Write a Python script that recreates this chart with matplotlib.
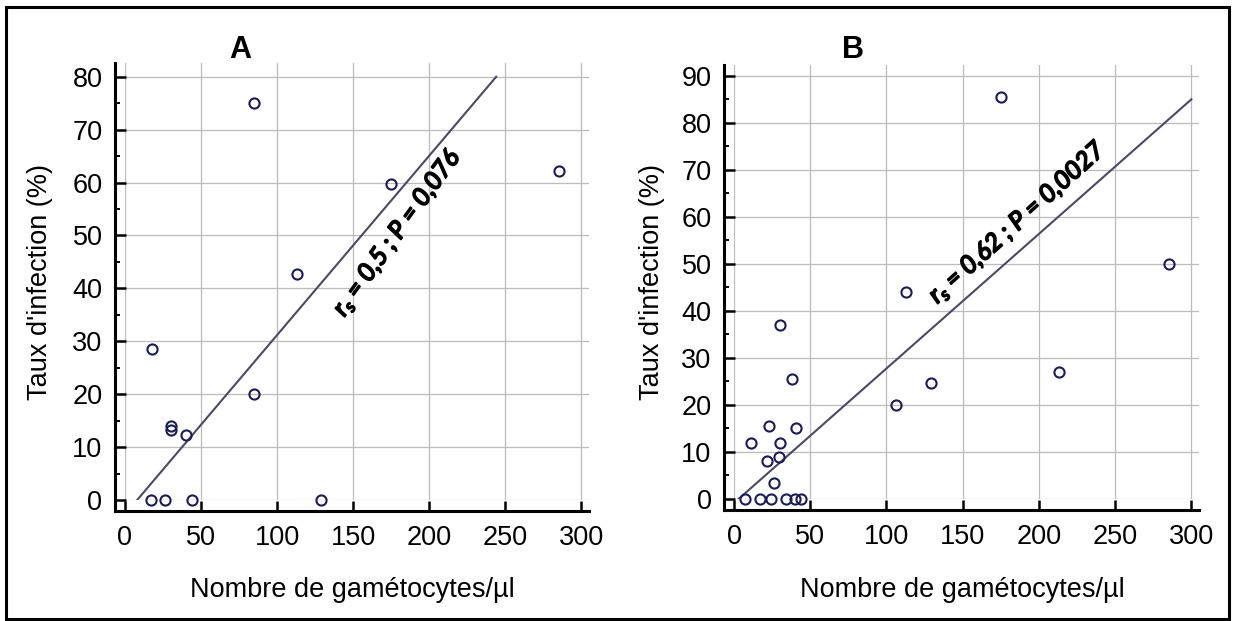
import numpy as np
import matplotlib
matplotlib.use("Agg")
import matplotlib.pyplot as plt
import matplotlib.patheffects as pe
from matplotlib.patches import Rectangle
from matplotlib.ticker import MultipleLocator

# panel A : gametocytes/ul vs infection rate (%)
gam_a = [17, 26, 44, 129, 18, 30, 30, 40, 85, 113, 85, 175, 285]
inf_a = [0, 0, 0, 0, 28.5, 14, 13.3, 12.3, 20, 42.8, 75, 59.8, 62.1]
fit_a_x = [8, 244]
fit_a_y = [0, 80]
label_a = "$r_s$ = 0,5 ; P = 0,076"

# panel B
gam_b = [7, 17, 24.5, 34, 40, 44, 38, 23, 40.5, 11, 30, 29.5, 21.5, 26,
         30, 106, 113, 129, 175, 213, 285]
inf_b = [0, 0, 0, 0, 0, 0, 25.5, 15.5, 15, 12, 12, 9, 8, 3.3,
         37, 20, 44, 24.7, 85.5, 27, 50]
fit_b_x = [3, 300]
fit_b_y = [0, 85]
label_b = "$r_s$ = 0,62 ; P = 0,0027"

xlabel = "Nombre de gamétocytes/µl"
ylabel = "Taux d'infection (%)"

W, H = 1234, 621
PT = 72 / 100  # points per pixel

plt.rcParams["font.family"] = ["Liberation Sans", "DejaVu Sans"]
plt.rcParams["mathtext.fontset"] = "custom"
plt.rcParams["mathtext.it"] = "Lato:italic"
plt.rcParams["mathtext.rm"] = "Lato"

fig = plt.figure(figsize=(W / 100, H / 100), dpi=100)
ax_a = fig.add_axes([125 / W, 1 - 500 / H, (589 - 125) / W, (500 - 63) / H])
ax_b = fig.add_axes([734 / W, 1 - 499 / H, (1199 - 734) / W, (499 - 65) / H])


def style(ax, ytop):
    ax.set_xlim(0, 305)
    ax.set_ylim(0, ytop)
    ax.xaxis.set_major_locator(MultipleLocator(50))
    ax.yaxis.set_major_locator(MultipleLocator(10))
    ax.yaxis.set_minor_locator(MultipleLocator(5))
    ax.grid(True, which="major", color="#bcbcbc", lw=0.9)
    ax.set_axisbelow(True)
    ax.spines["top"].set_visible(False)
    ax.spines["right"].set_visible(False)
    ax.spines["left"].set_position(("outward", 10 * PT))
    ax.spines["bottom"].set_position(("outward", 11 * PT))
    for s in ("left", "bottom"):
        ax.spines[s].set_linewidth(2.2)
    # extend the spines so they meet at the corner
    bb = ax.get_position()
    xpp = 305 / (bb.width * W)
    ypp = ytop / (bb.height * H)
    ax.spines["bottom"].set_bounds(-10 * xpp, 305)
    ax.spines["left"].set_bounds(-11 * ypp, ytop)
    ax.tick_params(which="major", direction="in", length=10.5 * PT, width=1.8,
                   labelsize=19.5, pad=9)
    ax.tick_params(axis="y", which="minor", direction="in", length=5 * PT, width=1.4)
    ax.tick_params(axis="x", pad=10)


style(ax_a, 82.6)
style(ax_b, 92.3)

mk = dict(marker="o", ls="none", ms=7.3, mfc="none", mec="#1c1c55", mew=1.5,
          clip_on=False, zorder=3)
ax_a.plot(gam_a, inf_a, **mk)
ax_b.plot(gam_b, inf_b, **mk)
ax_a.plot(fit_a_x, fit_a_y, color="#4a4a66", lw=1.5, zorder=2)
ax_b.plot(fit_b_x, fit_b_y, color="#4a4a66", lw=1.5, zorder=2)

# no bold italic face installed: thicken the italic with a stroke
ann = dict(fontsize=18, family="Lato", style="italic",
           ha="center", va="center", rotation_mode="anchor",
           path_effects=[pe.withStroke(linewidth=1.3, foreground="black")])
ax_a.text(179, 50.5, label_a, rotation=54, **ann)
ax_b.text(186, 58.8, label_b, rotation=42, **ann)

for ax, xl, xy, yx in ((ax_a, 0.491, -0.206, -0.183), (ax_b, 0.492, -0.21, -0.176)):
    ax.set_xlabel(xlabel, fontsize=19.5)
    ax.xaxis.set_label_coords(xl, xy)
    ax.xaxis.label.set_va("center")
    ax.set_ylabel(ylabel, fontsize=19.5)
    ax.yaxis.set_label_coords(yx, 0.5)
    ax.yaxis.label.set_va("center")

fig.text(240 / W, 1 - 50 / H, "A", fontsize=22, weight="bold", ha="center", va="center")
fig.text(853 / W, 1 - 50 / H, "B", fontsize=22, weight="bold", ha="center", va="center")

fig.add_artist(Rectangle((6 / W, 1 - 619 / H), (1229 - 6) / W, (619 - 7) / H,
                         transform=fig.transFigure, fill=False, lw=2.2, ec="black"))

fig.savefig("out.png", dpi=100)
